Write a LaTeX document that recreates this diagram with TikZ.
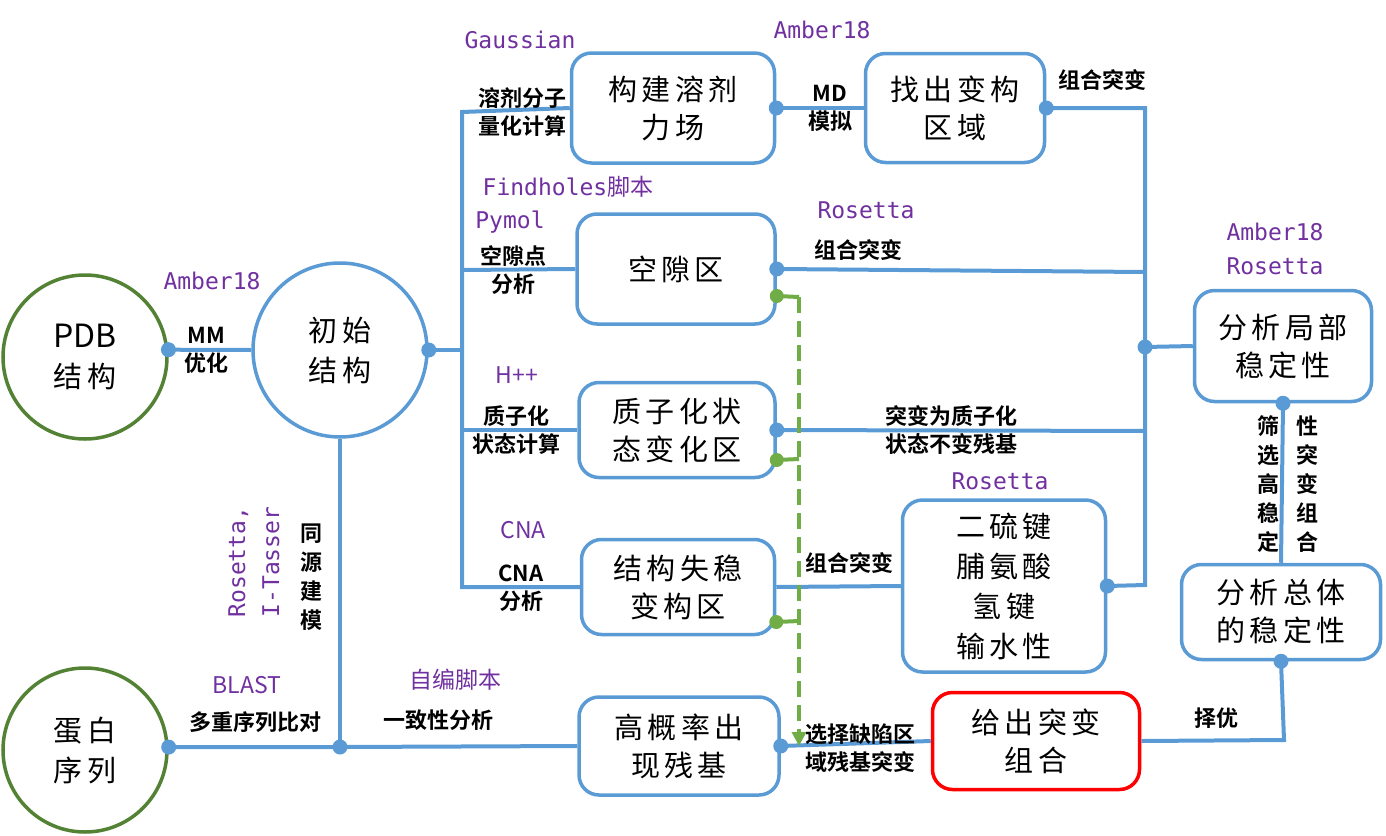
\documentclass[tikz,border=0pt]{standalone}
\usepackage{fontspec}
\usetikzlibrary{arrows.meta,calc}
\setmainfont{Noto Sans CJK SC}[BoldFont={Noto Sans CJK SC Bold}]
\newfontfamily\monof{DejaVu Sans Mono}
\newfontfamily\boxf{Noto Sans CJK SC}[LetterSpace=15]
\definecolor{bl}{HTML}{5B9BD5}
\definecolor{gc}{HTML}{548235}
\definecolor{gd}{HTML}{70AD47}
\definecolor{pu}{HTML}{7030A0}
\definecolor{rd}{HTML}{FF0000}
\tikzset{
 box/.style={draw=bl, line width=3.5pt, rounded corners=20pt, fill=white, align=center,
   font=\boxf\fontsize{29}{38}\selectfont, inner sep=0pt},
 circ/.style={circle, draw=bl, line width=3.5pt, fill=white, align=center,
   font=\boxf\fontsize{29}{40}\selectfont, inner sep=0pt},
 conn/.style={draw=bl, line width=4pt},
 gconn/.style={draw=gd, line width=4pt},
 dot/.style={circle, fill=bl, inner sep=0pt, minimum size=15pt},
 gdot/.style={circle, fill=gd, inner sep=0pt, minimum size=14pt},
 lab/.style={font=\bfseries\fontsize{22}{28}\selectfont, align=center, inner sep=0pt},
 vlab/.style={font=\bfseries\fontsize{22}{29}\selectfont, align=center, inner sep=0pt},
 tool/.style={text=pu, font=\monof\fontsize{23}{34}\selectfont, align=center, inner sep=0pt},
 toolc/.style={text=pu, font=\fontsize{23}{34}\selectfont, align=center, inner sep=0pt}
}
\begin{document}
\begin{tikzpicture}[x=1pt,y=-1pt]
\useasboundingbox (0,0) rectangle (1386,835);
% circles
\node[circ, draw=gc, minimum size=164pt] (pdb) at (85,357) {{\fontspec{Noto Sans CJK SC}\fontsize{32}{40}\selectfont PDB}\\结构};
\node[circ, draw=gc, minimum size=164pt] (seq) at (85,750) {蛋白\\序列};
\node[circ, minimum size=174pt] (init) at (340,350) {初始\\结构};
% boxes
\node[box, minimum width=203pt, minimum height=110pt] (b1) at (673,108) {构建溶剂\\力场};
\node[box, minimum width=179pt, minimum height=109pt] (b2) at (955,108) {找出变构\\区域};
\node[box, minimum width=198pt, minimum height=110pt] (b3) at (676,269) {空隙区};
\node[box, minimum width=196pt, minimum height=95pt] (b4) at (677,430) {质子化状\\态变化区};
\node[box, minimum width=193pt, minimum height=95pt] (b5) at (678,587) {结构失稳\\变构区};
\node[box, minimum width=203pt, minimum height=172pt, font=\boxf\fontsize{29}{40}\selectfont] (b6) at (1004,586) {二硫键\\脯氨酸\\氢键\\输水性};
\node[box, minimum width=177pt, minimum height=111pt] (b7) at (1283,346) {分析局部\\稳定性};
\node[box, minimum width=199pt, minimum height=95pt] (b8) at (1281,612) {分析总体\\的稳定性};
\node[box, draw=rd, minimum width=207pt, minimum height=97pt] (b9) at (1036,741) {给出突变\\组合};
\node[box, minimum width=200pt, minimum height=98pt] (b10) at (679,746) {高概率出\\现残基};
% coordinates
\coordinate (bt) at (462,112);
\coordinate (bb) at (462,587);
\coordinate (bm) at (462,350);
\coordinate (b3l) at (462,270);
\coordinate (b4l) at (462,430);
\coordinate (rt) at (1145,108);
\coordinate (rb) at (1145,585);
\coordinate (r3) at (1145,272);
\coordinate (r4) at (1145,431);
\coordinate (r7) at (1145,347);
\coordinate (rd8) at (1284,740);
\coordinate (sj) at (340,747);
% connectors (blue)
\draw[conn] (pdb.5) -- (init.west);
\draw[conn] (init.east) -- (bm);
\draw[conn] (b1.west) -- (bt) -- (bb) -- (b5.west);
\draw[conn] (b3l) -- (b3.west);
\draw[conn] (b4l) -- (b4.west);
\draw[conn] (b1.east) -- (b2.west);
\draw[conn] (b2.east) -- (rt) -- (rb) -- (b6.east);
\draw[conn] (b3.east) -- (r3);
\draw[conn] (b4.east) -- (r4);
\draw[conn] (r7) -- (b7.west);
\draw[conn] (b5.east) -- (b6.west);
\draw[conn] (b7.south) -- (b8.north);
\draw[conn] (b8.south) -- (rd8) -- (b9.east);
\draw[conn] (seq.2) -- (sj) -- (b10.west);
\draw[conn] (init.south) -- (sj);
\draw[conn] (b10.east) -- (b9.west);
% dots
\node[dot] (d1) at (pdb.5) {};
\node[dot] (d2) at (init.east) {};
\node[dot] (d3) at (b1.east) {};
\node[dot] (d4) at (b2.east) {};
\node[dot] (d5) at (b3.east) {};
\node[dot] (d6) at (b4.east) {};
\node[dot] (d7) at (r7) {};
\node[dot] (d8) at (b6.east) {};
\node[dot] (d9) at (b7.south) {};
\node[dot] (d10) at (b8.south) {};
\node[dot] (d11) at (seq.2) {};
\node[dot] (d12) at (sj) {};
\node[dot] (d13) at (b10.east) {};
% green dashed
\coordinate (g1) at ([yshift=-27pt]b3.east);
\coordinate (g2) at ([yshift=-30pt]b4.east);
\coordinate (g3) at ([yshift=-35pt]b5.east);
\coordinate (gt) at (799,297);
\coordinate (gm2) at (799,459);
\coordinate (gm3) at (799,621);
\coordinate (gend) at (799,746);
\draw[gconn] (g1) -- (gt);
\draw[gconn] (g2) -- (gm2);
\draw[gconn] (g3) -- (gm3);
\draw[gconn, dash pattern=on 16pt off 8pt, -{Triangle[length=14pt,width=14pt]}] (gt) -- (gend);
\node[gdot] at (g1) {};
\node[gdot] at (g2) {};
\node[gdot] at (g3) {};
% labels
\node[tool] (t1) at (212,281) {Amber18};
\node[lab] (l1) at (206,350) {MM\\优化};
\node[tool] (t2) at (520,40) {Gaussian};
\node[lab] (l2) at (522,112) {溶剂分子\\量化计算};
\node[tool] (t3) at (822,30) {Amber18};
\node[lab] (l3) at (830,108) {MD\\模拟};
\node[lab] (l4) at (1102,80) {组合突变};
\node[toolc] (t4) at (568,187) {{\monof Findholes}脚本};
\node[tool] (t5) at (510,222) {Pymol};
\node[lab] (l5) at (513,270) {空隙点\\分析};
\node[tool] (t6) at (866,210) {Rosetta};
\node[lab] (l6) at (858,250) {组合突变};
\node[toolc] (t7) at (517,375) {H++};
\node[lab] (l7) at (516,430) {质子化\\状态计算};
\node[lab] (l8) at (951,430) {突变为质子化\\状态不变残基};
\node[toolc] (t8) at (523,530) {CNA};
\node[lab] (l9) at (521,588) {CNA\\分析};
\node[lab] (l10) at (849,563) {组合突变};
\node[tool] (t9) at (1000,481) {Rosetta};
\node[tool] (t10) at (1275,249) {Amber18\\Rosetta};
\node[vlab] (l11) at (1268,484) {筛\\选\\高\\稳\\定};
\node[vlab] (l12) at (1307,484) {性\\突\\变\\组\\合};
\node[lab] (l13) at (1216,718) {择优};
\node[lab] (l14) at (860,748) {选择缺陷区\\域残基突变};
\node[toolc] (t11) at (247,685) {BLAST};
\node[lab] (l15) at (255,722) {多重序列比对};
\node[toolc] (t12) at (455,680) {自编脚本};
\node[lab] (l16) at (438,720) {一致性分析};
\node[tool, rotate=90] (t13) at (254,562) {Rosetta,\\I-Tasser};
\node[vlab] (l17) at (311,577) {同\\源\\建\\模};
\end{tikzpicture}
\end{document}
